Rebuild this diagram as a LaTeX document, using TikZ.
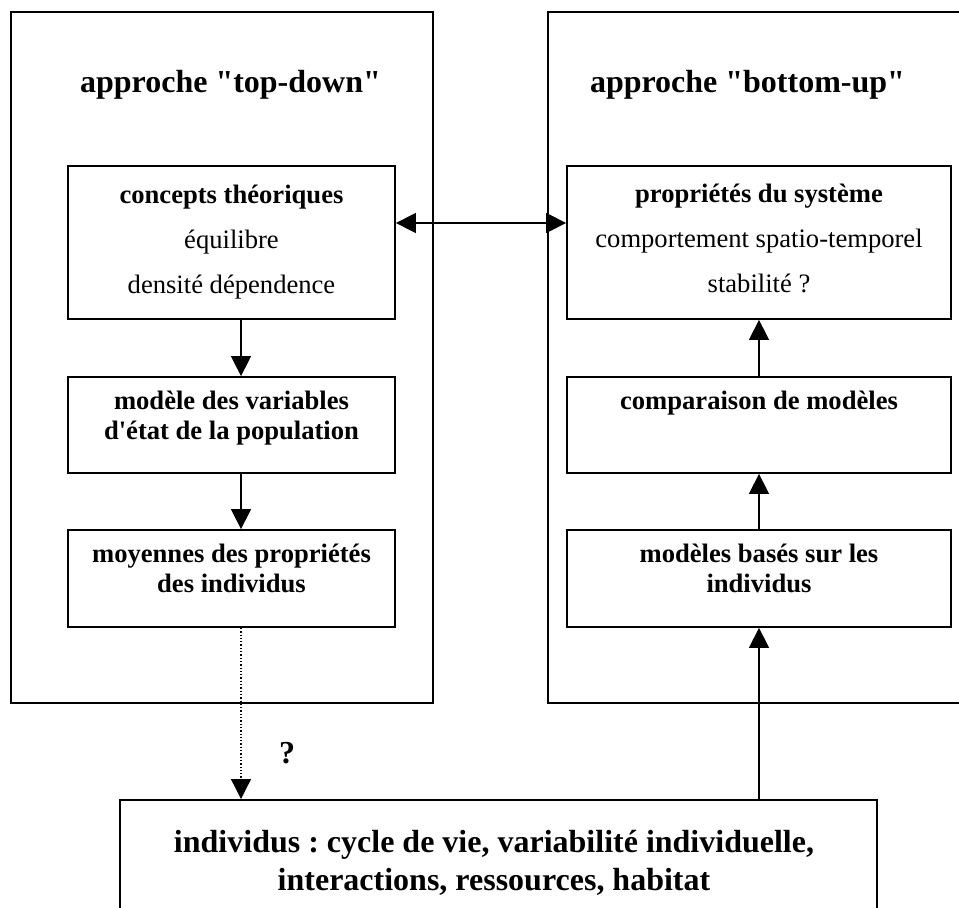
\documentclass[tikz,border=0pt]{standalone}
\usepackage{fontspec}
\setmainfont{Liberation Serif}[Ligatures=TeXOff]
\usetikzlibrary{arrows.meta}
\frenchspacing

\tikzset{
    approachframe/.style={draw, line width=1.8pt, inner sep=0pt},
    stagebox/.style={draw, line width=1.8pt, inner sep=0pt},
    headtext/.style={font=\fontsize{32}{38}\selectfont\bfseries, inner sep=0pt},
    looseText/.style={font=\fontsize{26.6}{45}\selectfont, align=center, inner sep=0pt},
    stagetext/.style={font=\fontsize{26.6}{30}\selectfont\bfseries, align=center, inner sep=0pt},
    flow/.style={line width=1.5pt, -{Triangle[length=20pt, width=20pt]}},
    twoway/.style={line width=1.5pt, {Triangle[length=20pt, width=20pt]}-{Triangle[length=20pt, width=20pt]}}
}

\begin{document}
\begin{tikzpicture}[x=1pt, y=-1pt]
    \clip (0,0) rectangle (959,908);

    % Outer frames
    \node[approachframe, minimum width=422pt, minimum height=691pt] (topdown) at (222,357.5) {};
    \node[approachframe, minimum width=427pt, minimum height=691pt] (bottomup) at (761.5,357.5) {};
    \node[headtext, anchor=base] (tdtitle) at (230.5,92) {approche "top-down"};
    \node[headtext, anchor=base] (butitle) at (747.5,92) {approche "bottom-up"};

    % Left column
    \node[stagebox, minimum width=327pt, minimum height=153pt] (concepts) at (231.5,242.5) {};
    \node[stagebox, minimum width=327pt, minimum height=96pt] (modele) at (231.5,425) {};
    \node[stagebox, minimum width=327pt, minimum height=97pt] (moyennes) at (231.5,578.5) {};

    % Right column
    \node[stagebox, minimum width=384pt, minimum height=153pt] (proprietes) at (759,242.5) {};
    \node[stagebox, minimum width=384pt, minimum height=96pt] (comparaison) at (759,425) {};
    \node[stagebox, minimum width=384pt, minimum height=97pt] (modeles) at (759,578.5) {};

    % Bottom box (open at the bottom)
    \node[approachframe, anchor=north, minimum width=757pt, minimum height=160pt] (indiv) at (498.5,799) {};

    % Texts
    \node[looseText, anchor=north, yshift=-19.5pt] (conceptstext) at (concepts.north)
        {\textbf{concepts théoriques}\\ équilibre\\ densité dépendence};
    \node[looseText, anchor=north, yshift=-19pt] (proprietestext) at (proprietes.north)
        {\textbf{propriétés du système}\\ comportement spatio-temporel\\ stabilité ?};
    \node[stagetext, anchor=north, yshift=-15pt] (modeletext) at (modele.north)
        {modèle des variables\\ d'état de la population};
    \node[stagetext, anchor=north, yshift=-15pt] (comparaisontext) at (comparaison.north)
        {comparaison de modèles};
    \node[stagetext, anchor=north, yshift=-15pt] (moyennestext) at (moyennes.north)
        {moyennes des propriétés\\ des individus};
    \node[stagetext, anchor=north, yshift=-15pt] (modelestext) at (modeles.north)
        {modèles basés sur les\\ individus};
    \node[headtext, align=center, anchor=north, yshift=-31pt] (indivtext) at (494,799)
        {individus : cycle de vie, variabilité individuelle,\\ interactions, ressources, habitat};
    \node[headtext, anchor=base] (unknown) at (287,763) {?};

    % Arrows
    \coordinate (leftaxis) at (241,0);
    \coordinate (linky) at (0,223);
    \draw[twoway] (concepts.east |- linky) -- (proprietes.west |- linky);
    \draw[flow] (concepts.south -| leftaxis) -- (modele.north -| leftaxis);
    \draw[flow] (modele.south -| leftaxis) -- (moyennes.north -| leftaxis);
    \draw[flow, line width=1.3pt, dotted] (moyennes.south -| leftaxis) -- (indiv.north -| leftaxis);
    \draw[flow] (indiv.north -| modeles) -- (modeles.south);
    \draw[flow] (modeles.north) -- (comparaison.south);
    \draw[flow] (comparaison.north) -- (proprietes.south);
\end{tikzpicture}
\end{document}
